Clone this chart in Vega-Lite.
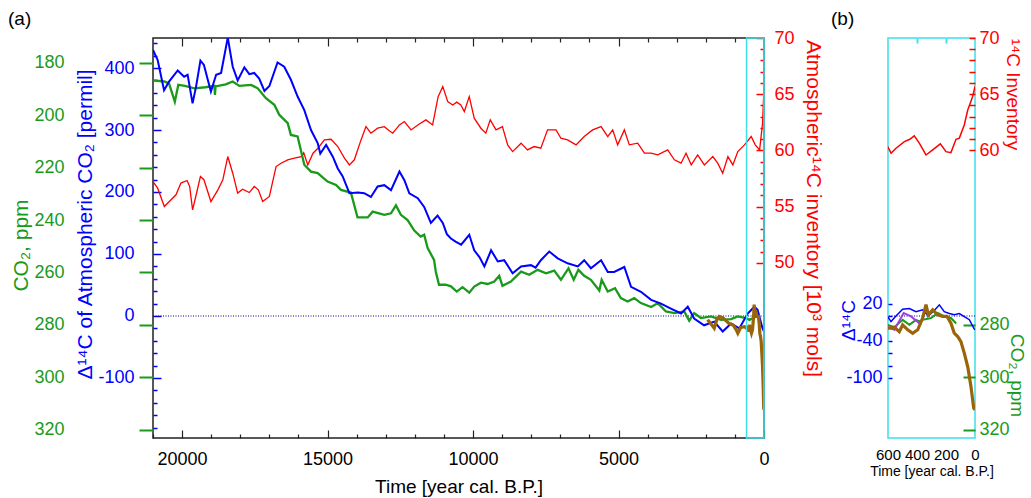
{
  "$schema": "https://vega.github.io/schema/vega-lite/v6.json",
  "padding": {"left": 7, "top": 9, "right": 5, "bottom": 5},
  "config": {"font": "Liberation Sans", "axis": {"labelFont": "Liberation Sans", "titleFont": "Liberation Sans"}, "title": {"font": "Liberation Sans"}},
  "datasets": {
    "d14c_a": [
      {"t":21000,"v":429},{"t":20840,"v":413},{"t":20620,"v":364},{"t":20450,"v":378},{"t":20150,"v":396},{"t":19930,"v":386},{"t":19810,"v":389},{"t":19640,"v":343},{"t":19520,"v":370},{"t":19370,"v":412},{"t":19250,"v":405},{"t":19010,"v":362},{"t":18830,"v":389},{"t":18660,"v":392},{"t":18430,"v":449},{"t":18260,"v":402},{"t":18090,"v":380},{"t":17860,"v":401},{"t":17690,"v":390},{"t":17520,"v":392},{"t":17350,"v":383},{"t":17170,"v":363},{"t":17000,"v":371},{"t":16720,"v":409},{"t":16490,"v":402},{"t":16260,"v":381},{"t":16030,"v":354},{"t":15800,"v":332},{"t":15570,"v":300},{"t":15340,"v":279},{"t":15250,"v":262},{"t":15050,"v":276},{"t":14820,"v":257},{"t":14650,"v":238},{"t":14480,"v":225},{"t":14250,"v":198},{"t":13960,"v":199},{"t":13740,"v":198},{"t":13510,"v":192},{"t":13280,"v":209},{"t":13050,"v":211},{"t":12820,"v":203},{"t":12530,"v":233},{"t":12360,"v":219},{"t":12190,"v":198},{"t":11900,"v":190},{"t":11680,"v":176},{"t":11450,"v":150},{"t":11220,"v":162},{"t":11040,"v":150},{"t":10900,"v":132},{"t":10760,"v":125},{"t":10600,"v":120},{"t":10410,"v":115},{"t":10130,"v":131},{"t":9960,"v":106},{"t":9780,"v":95},{"t":9610,"v":80},{"t":9380,"v":106},{"t":9150,"v":88},{"t":8930,"v":90},{"t":8640,"v":69},{"t":8350,"v":80},{"t":8010,"v":82},{"t":7850,"v":78},{"t":7670,"v":90},{"t":7380,"v":104},{"t":7090,"v":93},{"t":6750,"v":85},{"t":6400,"v":80},{"t":6180,"v":90},{"t":5950,"v":77},{"t":5600,"v":90},{"t":5370,"v":71},{"t":5150,"v":71},{"t":4800,"v":79},{"t":4570,"v":47},{"t":4230,"v":39},{"t":3880,"v":26},{"t":3540,"v":20},{"t":3200,"v":12},{"t":2850,"v":4},{"t":2620,"v":15},{"t":2400,"v":-4},{"t":2060,"v":-15},{"t":1710,"v":-9},{"t":1420,"v":-25},{"t":1130,"v":-12},{"t":850,"v":-20},{"t":560,"v":4},{"t":330,"v":15},{"t":220,"v":10},{"t":50,"v":-20},{"t":0,"v":-25}
    ],
    "co2_a": [
      {"t":21000,"v":186.7},{"t":20610,"v":187.1},{"t":20450,"v":187.8},{"t":20250,"v":194.8},{"t":20130,"v":188.4},{"t":19900,"v":188.8},{"t":19580,"v":189.7},{"t":19200,"v":189.3},{"t":18890,"v":188.8},{"t":18870,"v":192.2},{"t":18850,"v":189},{"t":18500,"v":188.2},{"t":18260,"v":187.1},{"t":18030,"v":188.8},{"t":17630,"v":188.4},{"t":17400,"v":189.7},{"t":17120,"v":193.5},{"t":16830,"v":196},{"t":16660,"v":199.8},{"t":16370,"v":203},{"t":16260,"v":207.5},{"t":16030,"v":208.1},{"t":15800,"v":218.9},{"t":15570,"v":221.5},{"t":15340,"v":222.1},{"t":15000,"v":225.3},{"t":14710,"v":226.6},{"t":14540,"v":228.5},{"t":14200,"v":229.5},{"t":13970,"v":239},{"t":13620,"v":239},{"t":13450,"v":236.8},{"t":13050,"v":238},{"t":12820,"v":237.4},{"t":12650,"v":234.4},{"t":12480,"v":238},{"t":12250,"v":240},{"t":12020,"v":244},{"t":11800,"v":246.3},{"t":11680,"v":245.6},{"t":11560,"v":250.7},{"t":11340,"v":255.2},{"t":11280,"v":259.7},{"t":11170,"v":264.7},{"t":10940,"v":264.7},{"t":10760,"v":265.3},{"t":10560,"v":267.3},{"t":10360,"v":265.6},{"t":10130,"v":267.7},{"t":9960,"v":265.4},{"t":9730,"v":263.9},{"t":9500,"v":264.4},{"t":9270,"v":263.5},{"t":9100,"v":261.3},{"t":8990,"v":265.1},{"t":8700,"v":263.5},{"t":8350,"v":259.7},{"t":8070,"v":260.9},{"t":7780,"v":259},{"t":7490,"v":260.3},{"t":7210,"v":259.3},{"t":6980,"v":262.8},{"t":6720,"v":258.4},{"t":6540,"v":262.8},{"t":6380,"v":259},{"t":6180,"v":261.3},{"t":5950,"v":262.8},{"t":5660,"v":266.9},{"t":5580,"v":262.8},{"t":5370,"v":267.3},{"t":5120,"v":266},{"t":4920,"v":269.8},{"t":4690,"v":271.1},{"t":4460,"v":269.8},{"t":4230,"v":271.7},{"t":3880,"v":273.2},{"t":3650,"v":271.7},{"t":3370,"v":274.9},{"t":3080,"v":275.5},{"t":2740,"v":274.9},{"t":2570,"v":278.4},{"t":2400,"v":275.5},{"t":2170,"v":277.4},{"t":1820,"v":276.8},{"t":1480,"v":278.1},{"t":1130,"v":277.8},{"t":900,"v":276.8},{"t":620,"v":277.4},{"t":500,"v":278.1},{"t":300,"v":277},{"t":200,"v":276.8}
    ],
    "inv_a": [
      {"t":21000,"v":57.24},{"t":20840,"v":56.65},{"t":20610,"v":55.02},{"t":20440,"v":55.46},{"t":20210,"v":56.06},{"t":20040,"v":57.1},{"t":19830,"v":57.33},{"t":19740,"v":56.8},{"t":19640,"v":54.72},{"t":19530,"v":55.91},{"t":19370,"v":57.68},{"t":19250,"v":57.4},{"t":19010,"v":55.46},{"t":18770,"v":56.5},{"t":18600,"v":57.39},{"t":18430,"v":59.46},{"t":18260,"v":57.98},{"t":18090,"v":56.21},{"t":17920,"v":56.56},{"t":17690,"v":56.26},{"t":17520,"v":56.8},{"t":17380,"v":56.5},{"t":17230,"v":55.46},{"t":17000,"v":55.91},{"t":16770,"v":58.57},{"t":16600,"v":58.87},{"t":16370,"v":59.17},{"t":16140,"v":59.32},{"t":15910,"v":59.46},{"t":15820,"v":59.8},{"t":15680,"v":58.72},{"t":15500,"v":59.76},{"t":15330,"v":60.2},{"t":15110,"v":60.94},{"t":14880,"v":61.0},{"t":14650,"v":60.35},{"t":14420,"v":59.32},{"t":14250,"v":58.72},{"t":14080,"v":59.17},{"t":13850,"v":60.94},{"t":13680,"v":62.12},{"t":13510,"v":61.54},{"t":13280,"v":61.98},{"t":13050,"v":62.12},{"t":12900,"v":61.8},{"t":12760,"v":61.54},{"t":12530,"v":62.27},{"t":12360,"v":62.57},{"t":12130,"v":61.83},{"t":11900,"v":62.27},{"t":11620,"v":62.72},{"t":11390,"v":62.27},{"t":11200,"v":64.79},{"t":11040,"v":65.68},{"t":10870,"v":64.34},{"t":10700,"v":64.05},{"t":10560,"v":64.3},{"t":10420,"v":64.05},{"t":10300,"v":63.46},{"t":10130,"v":64.79},{"t":9960,"v":62.87},{"t":9730,"v":61.98},{"t":9560,"v":61.54},{"t":9410,"v":62.72},{"t":9210,"v":61.83},{"t":8990,"v":62.12},{"t":8810,"v":60.5},{"t":8640,"v":59.9},{"t":8350,"v":60.65},{"t":8130,"v":60.05},{"t":7900,"v":60.35},{"t":7670,"v":60.2},{"t":7440,"v":61.83},{"t":7150,"v":61.83},{"t":6980,"v":61.09},{"t":6750,"v":60.94},{"t":6460,"v":60.5},{"t":6180,"v":61.24},{"t":5890,"v":61.83},{"t":5600,"v":62.12},{"t":5370,"v":61.24},{"t":5200,"v":61.83},{"t":5030,"v":60.5},{"t":4800,"v":61.83},{"t":4630,"v":60.5},{"t":4340,"v":60.65},{"t":4110,"v":59.76},{"t":3880,"v":59.76},{"t":3650,"v":59.61},{"t":3310,"v":60.05},{"t":3080,"v":59.17},{"t":2850,"v":58.87},{"t":2680,"v":59.76},{"t":2500,"v":58.72},{"t":2280,"v":59.61},{"t":2050,"v":58.72},{"t":1760,"v":59.46},{"t":1590,"v":58.87},{"t":1420,"v":57.98},{"t":1240,"v":59.46},{"t":1070,"v":58.72},{"t":900,"v":59.9},{"t":670,"v":60.5},{"t":440,"v":61.24},{"t":300,"v":60.5},{"t":150,"v":60.05},{"t":50,"v":62.42},{"t":0,"v":65.68}
    ],
    "law_a": [
      {"t":1940,"v":278.1},{"t":1800,"v":280},{"t":1710,"v":281.3},{"t":1620,"v":278},{"t":1540,"v":276.8},{"t":1400,"v":277.4},{"t":1300,"v":278.5},{"t":1200,"v":279.5},{"t":1050,"v":280.2},{"t":950,"v":282},{"t":900,"v":283.2},{"t":800,"v":281},{"t":670,"v":280.7},{"t":602,"v":281.3},{"t":556,"v":280.9},{"t":522,"v":282.6},{"t":499,"v":280},{"t":464,"v":281.9},{"t":430,"v":283.2},{"t":395,"v":281.9},{"t":361,"v":277.4},{"t":338,"v":272.3},{"t":322,"v":276.2},{"t":292,"v":274.3},{"t":257,"v":276.2},{"t":223,"v":276.8},{"t":193,"v":276.8},{"t":166,"v":279.4},{"t":143,"v":283.2},{"t":119,"v":284.5},{"t":97,"v":286.4},{"t":74,"v":290.8},{"t":50,"v":296},{"t":28,"v":303.5},{"t":9,"v":311.8},{"t":0,"v":312.4}
    ],
    "purple": [
      {"t":602,"v":280.9},{"t":556,"v":281.9},{"t":492,"v":275.5},{"t":441,"v":276.8},{"t":372,"v":280}
    ],
    "d14c_b": [
      {"t":602,"v":-1},{"t":579,"v":-9},{"t":545,"v":0},{"t":499,"v":11},{"t":453,"v":12},{"t":407,"v":7},{"t":361,"v":10},{"t":322,"v":0},{"t":281,"v":9},{"t":246,"v":18},{"t":212,"v":7},{"t":177,"v":4},{"t":143,"v":2},{"t":108,"v":4},{"t":74,"v":-1},{"t":39,"v":-6},{"t":5,"v":-21},{"t":0,"v":-22}
    ],
    "co2_b": [
      {"t":602,"v":280},{"t":556,"v":280.9},{"t":499,"v":278.1},{"t":453,"v":280},{"t":407,"v":278.1},{"t":384,"v":278.7},{"t":361,"v":278.1},{"t":303,"v":277.4},{"t":257,"v":275.5},{"t":212,"v":276.8},{"t":166,"v":277.4},{"t":130,"v":279.5}
    ],
    "inv_b": [
      {"t":602,"v":60.35},{"t":579,"v":59.76},{"t":545,"v":60.2},{"t":487,"v":60.79},{"t":450,"v":61.0},{"t":419,"v":61.3},{"t":384,"v":60.65},{"t":338,"v":59.6},{"t":292,"v":60.05},{"t":239,"v":60.59},{"t":200,"v":59.9},{"t":166,"v":59.81},{"t":131,"v":61.0},{"t":108,"v":61.1},{"t":74,"v":62.27},{"t":50,"v":63.6},{"t":16,"v":64.8},{"t":0,"v":65.7}
    ]
  },
  "hconcat": [
    {
      "width": 611, "height": 400,
      "view": {"stroke": "#222", "strokeWidth": 1.5},
      "title": {"text": "(a)", "anchor": "start", "frame": "group", "dx": -145, "offset": -15, "baseline": "alphabetic", "fontSize": 19, "fontWeight": "normal", "color": "#000"},
      "layer": [
        {"data": {"values": [{"v": 0}]}, "mark": {"type": "rule", "color": "#00008b", "strokeDash": [1, 1.5], "strokeWidth": 1},
         "encoding": {"y": {"field": "v", "type": "quantitative", "scale": {"domain": [-196.8, 448.4], "nice": false, "zero": false}, "axis": null}}},
        {"data": {"name": "inv_a"}, "mark": {"type": "line", "color": "#ff0000", "strokeWidth": 1.3, "clip": true},
         "encoding": {
           "x": {"field": "t", "type": "quantitative", "scale": {"domain": [21000, 0], "nice": false, "zero": false},
                 "axis": {"orient": "top", "values": [1000,2000,3000,4000,5000,6000,7000,8000,9000,10000,11000,12000,13000,14000,15000,16000,17000,18000,19000,20000], "labels": false, "tickSize": {"condition": {"test": "datum.value % 5000 == 0", "value": -8}, "value": -4}, "tickColor": "#222", "tickWidth": 1.2, "domain": false, "grid": false, "title": null}},
           "y": {"field": "v", "type": "quantitative", "scale": {"domain": [34.44, 70], "nice": false, "zero": false},
                 "axis": {"orient": "right", "values": [50,51,52,53,54,55,56,57,58,59,60,61,62,63,64,65,66,67,68,69,70], "labelExpr": "datum.value % 5 == 0 ? '' + datum.value : ''", "tickSize": {"condition": {"test": "datum.value % 5 == 0", "value": -8}, "value": -4}, "tickColor": "#ff0000", "tickWidth": 1.5, "labelColor": "#ff0000", "labelFontSize": 18, "labelPadding": 18, "domain": false, "grid": false, "labelFlush": false, "labelOverlap": false, "title": "Atmospheric¹⁴C inventory [10³ mols]", "titleColor": "#ff0000", "titleFontSize": 21, "titleFontWeight": "normal", "titleX": 48, "titleY": 170, "titleAngle": 90, "titleBaseline": "middle", "titleAlign": "center"}}
         }},
        {"data": {"name": "co2_a"}, "mark": {"type": "line", "color": "#1a9a1a", "strokeWidth": 2.3, "clip": true},
         "encoding": {
           "x": {"field": "t", "type": "quantitative", "scale": {"domain": [21000, 0], "nice": false, "zero": false}, "axis": null},
           "y": {"field": "v", "type": "quantitative", "scale": {"domain": [170.5, 323.2], "reverse": true, "nice": false, "zero": false},
                 "axis": {"orient": "left", "values": [180,200,220,240,260,280,300,320], "labelExpr": "'' + datum.value", "tickSize": 14, "tickWidth": 2, "tickColor": "#1a9a1a", "labelColor": "#1a9a1a", "labelFontSize": 18, "labelPadding": 75, "domain": false, "grid": false, "labelFlush": false, "labelOverlap": false, "title": "CO₂, ppm", "titleColor": "#1a9a1a", "titleFontSize": 21, "titleFontWeight": "normal", "titleX": -132, "titleY": 207, "titleAngle": -90, "titleBaseline": "middle", "titleAlign": "center"}}
         }},
        {"data": {"name": "d14c_a"}, "mark": {"type": "line", "color": "#0000ff", "strokeWidth": 2, "clip": true},
         "encoding": {
           "x": {"field": "t", "type": "quantitative", "scale": {"domain": [21000, 0], "nice": false, "zero": false},
                 "axis": {"orient": "bottom", "values": [0,1000,2000,3000,4000,5000,6000,7000,8000,9000,10000,11000,12000,13000,14000,15000,16000,17000,18000,19000,20000,21000], "labelExpr": "datum.value % 5000 == 0 ? '' + datum.value : ''", "tickSize": {"condition": {"test": "datum.value % 5000 == 0", "value": -8}, "value": -4}, "tickColor": "#222", "tickWidth": 1.2, "labelColor": "#000", "labelFontSize": 18, "labelPadding": 20, "domain": false, "grid": false, "labelFlush": false, "labelOverlap": false, "title": "Time [year cal. B.P.]", "titleFontSize": 19, "titleFontWeight": "normal", "titleColor": "#000", "titleY": 48, "titleBaseline": "middle"}},
           "y": {"field": "v", "type": "quantitative", "scale": {"domain": [-196.8, 448.4], "nice": false, "zero": false},
                 "axis": {"orient": "left", "values": [-180,-160,-140,-120,-100,-80,-60,-40,-20,0,20,40,60,80,100,120,140,160,180,200,220,240,260,280,300,320,340,360,380,400,420,440], "labelExpr": "datum.value % 100 == 0 ? '' + datum.value : ''", "tickSize": {"condition": {"test": "datum.value % 100 == 0", "value": -8}, "value": -4}, "tickColor": "#0000ff", "tickWidth": 1.5, "labelColor": "#0000ff", "labelFontSize": 18, "labelPadding": 27, "domain": false, "grid": false, "labelFlush": false, "labelOverlap": false, "title": "Δ¹⁴C of Atmospheric CO₂ [permil]", "titleColor": "#0000ff", "titleFontSize": 21, "titleFontWeight": "normal", "titleX": -68, "titleY": 186, "titleAngle": -90, "titleBaseline": "middle", "titleAlign": "center"}}
         }},
        {"data": {"name": "law_a"}, "mark": {"type": "line", "color": "#9a6408", "strokeWidth": 3.2, "clip": true},
         "encoding": {
           "x": {"field": "t", "type": "quantitative", "scale": {"domain": [21000, 0], "nice": false, "zero": false}, "axis": null},
           "y": {"field": "v", "type": "quantitative", "scale": {"domain": [170.5, 323.2], "reverse": true, "nice": false, "zero": false}, "axis": null}
         }},
        {"data": {"values": [{"t0": 600, "t1": 0}]}, "mark": {"type": "rect", "fill": null, "fillOpacity": 0, "stroke": "#3ee0ea", "strokeWidth": 1.5},
         "encoding": {
           "x": {"field": "t0", "type": "quantitative", "scale": {"domain": [21000, 0], "nice": false, "zero": false}, "axis": null},
           "x2": {"field": "t1"}
         }}
      ],
      "resolve": {"scale": {"y": "independent"}, "axis": {"x": "independent", "y": "independent"}}
    },
    {
      "width": 87, "height": 400,
      "view": {"stroke": "#3ee0ea", "strokeWidth": 1.5},
      "title": {"text": "(b)", "anchor": "start", "frame": "group", "dx": -57, "offset": -15, "baseline": "alphabetic", "fontSize": 19, "fontWeight": "normal", "color": "#000"},
      "layer": [
        {"data": {"values": [{"v": 0}]}, "mark": {"type": "rule", "color": "#00008b", "strokeDash": [1, 1.5], "strokeWidth": 1},
         "encoding": {"y": {"field": "v", "type": "quantitative", "scale": {"domain": [-196.8, 448.4], "nice": false, "zero": false}, "axis": null}}},
        {"data": {"name": "inv_b"}, "mark": {"type": "line", "color": "#ff0000", "strokeWidth": 1.5, "clip": true},
         "encoding": {
           "x": {"field": "t", "type": "quantitative", "scale": {"domain": [600, 0], "nice": false, "zero": false},
                 "axis": {"orient": "top", "values": [400, 200], "labels": false, "tickSize": -5, "tickColor": "#3ee0ea", "tickWidth": 2, "domain": false, "grid": false, "title": null}},
           "y": {"field": "v", "type": "quantitative", "scale": {"domain": [34.44, 70], "nice": false, "zero": false},
                 "axis": {"orient": "right", "values": [60,61,62,63,64,65,66,67,68,69,70], "labelExpr": "datum.value % 5 == 0 ? '' + datum.value : ''", "tickSize": -6, "tickColor": "#ff0000", "tickWidth": 1.5, "labelColor": "#ff0000", "labelFontSize": 18, "labelPadding": 10, "domain": false, "grid": false, "labelFlush": false, "labelOverlap": false, "title": "¹⁴C Inventory", "titleColor": "#ff0000", "titleFontSize": 19, "titleFontWeight": "normal", "titleX": 37, "titleY": 56, "titleAngle": 90, "titleBaseline": "middle", "titleAlign": "center"}}
         }},
        {"data": {"name": "co2_b"}, "mark": {"type": "line", "color": "#1a9a1a", "strokeWidth": 2, "clip": true},
         "encoding": {
           "x": {"field": "t", "type": "quantitative", "scale": {"domain": [600, 0], "nice": false, "zero": false},
                 "axis": {"orient": "bottom", "values": [600, 400, 200, 0], "ticks": false, "labelExpr": "'' + datum.value", "labelColor": "#000", "labelFontSize": 15, "labelPadding": 9, "domain": false, "grid": false, "labelFlush": false, "labelOverlap": false, "title": "Time [year cal. B.P.]", "titleFontSize": 14, "titleFontWeight": "normal", "titleColor": "#000", "titleY": 33, "titleBaseline": "middle"}},
           "y": {"field": "v", "type": "quantitative", "scale": {"domain": [170.5, 323.2], "reverse": true, "nice": false, "zero": false},
                 "axis": {"orient": "right", "values": [280, 300, 320], "labelExpr": "'' + datum.value", "tickSize": -12, "tickWidth": 2, "tickColor": "#1a9a1a", "labelColor": "#1a9a1a", "labelFontSize": 18, "labelPadding": 16, "domain": false, "grid": false, "labelFlush": false, "labelOverlap": false, "title": "CO₂, ppm", "titleColor": "#1a9a1a", "titleFontSize": 19, "titleFontWeight": "normal", "titleX": 41, "titleY": 337, "titleAngle": 90, "titleBaseline": "middle", "titleAlign": "center"}}
         }},
        {"data": {"name": "purple"}, "mark": {"type": "line", "color": "#a040e0", "strokeWidth": 2, "clip": true},
         "encoding": {
           "x": {"field": "t", "type": "quantitative", "scale": {"domain": [600, 0], "nice": false, "zero": false}, "axis": null},
           "y": {"field": "v", "type": "quantitative", "scale": {"domain": [170.5, 323.2], "reverse": true, "nice": false, "zero": false}, "axis": null}
         }},
        {"data": {"name": "d14c_b"}, "mark": {"type": "line", "color": "#0000ff", "strokeWidth": 1.5, "clip": true},
         "encoding": {
           "x": {"field": "t", "type": "quantitative", "scale": {"domain": [600, 0], "nice": false, "zero": false}, "axis": null},
           "y": {"field": "v", "type": "quantitative", "scale": {"domain": [-196.8, 448.4], "nice": false, "zero": false},
                 "axis": {"orient": "left", "values": [-100,-80,-60,-40,-20,0,20], "labelExpr": "(datum.value + 100) % 60 == 0 ? '' + datum.value : ''", "tickSize": -4, "tickColor": "#0000ff", "tickWidth": 1.5, "labelColor": "#0000ff", "labelFontSize": 18, "labelPadding": 10, "domain": false, "grid": false, "labelFlush": false, "labelOverlap": false, "title": "Δ¹⁴C", "titleColor": "#0000ff", "titleFontSize": 19, "titleFontWeight": "normal", "titleX": -40, "titleY": 282, "titleAngle": -90, "titleBaseline": "middle", "titleAlign": "center"}}
         }},
        {"data": {"name": "law_a"}, "mark": {"type": "line", "color": "#9a6408", "strokeWidth": 3.2, "clip": true},
         "encoding": {
           "x": {"field": "t", "type": "quantitative", "scale": {"domain": [600, 0], "nice": false, "zero": false}, "axis": null},
           "y": {"field": "v", "type": "quantitative", "scale": {"domain": [170.5, 323.2], "reverse": true, "nice": false, "zero": false}, "axis": null}
         }}
      ],
      "resolve": {"scale": {"y": "independent"}, "axis": {"x": "independent", "y": "independent"}}
    }
  ],
  "spacing": 124,
  "bounds": "flush"
}
